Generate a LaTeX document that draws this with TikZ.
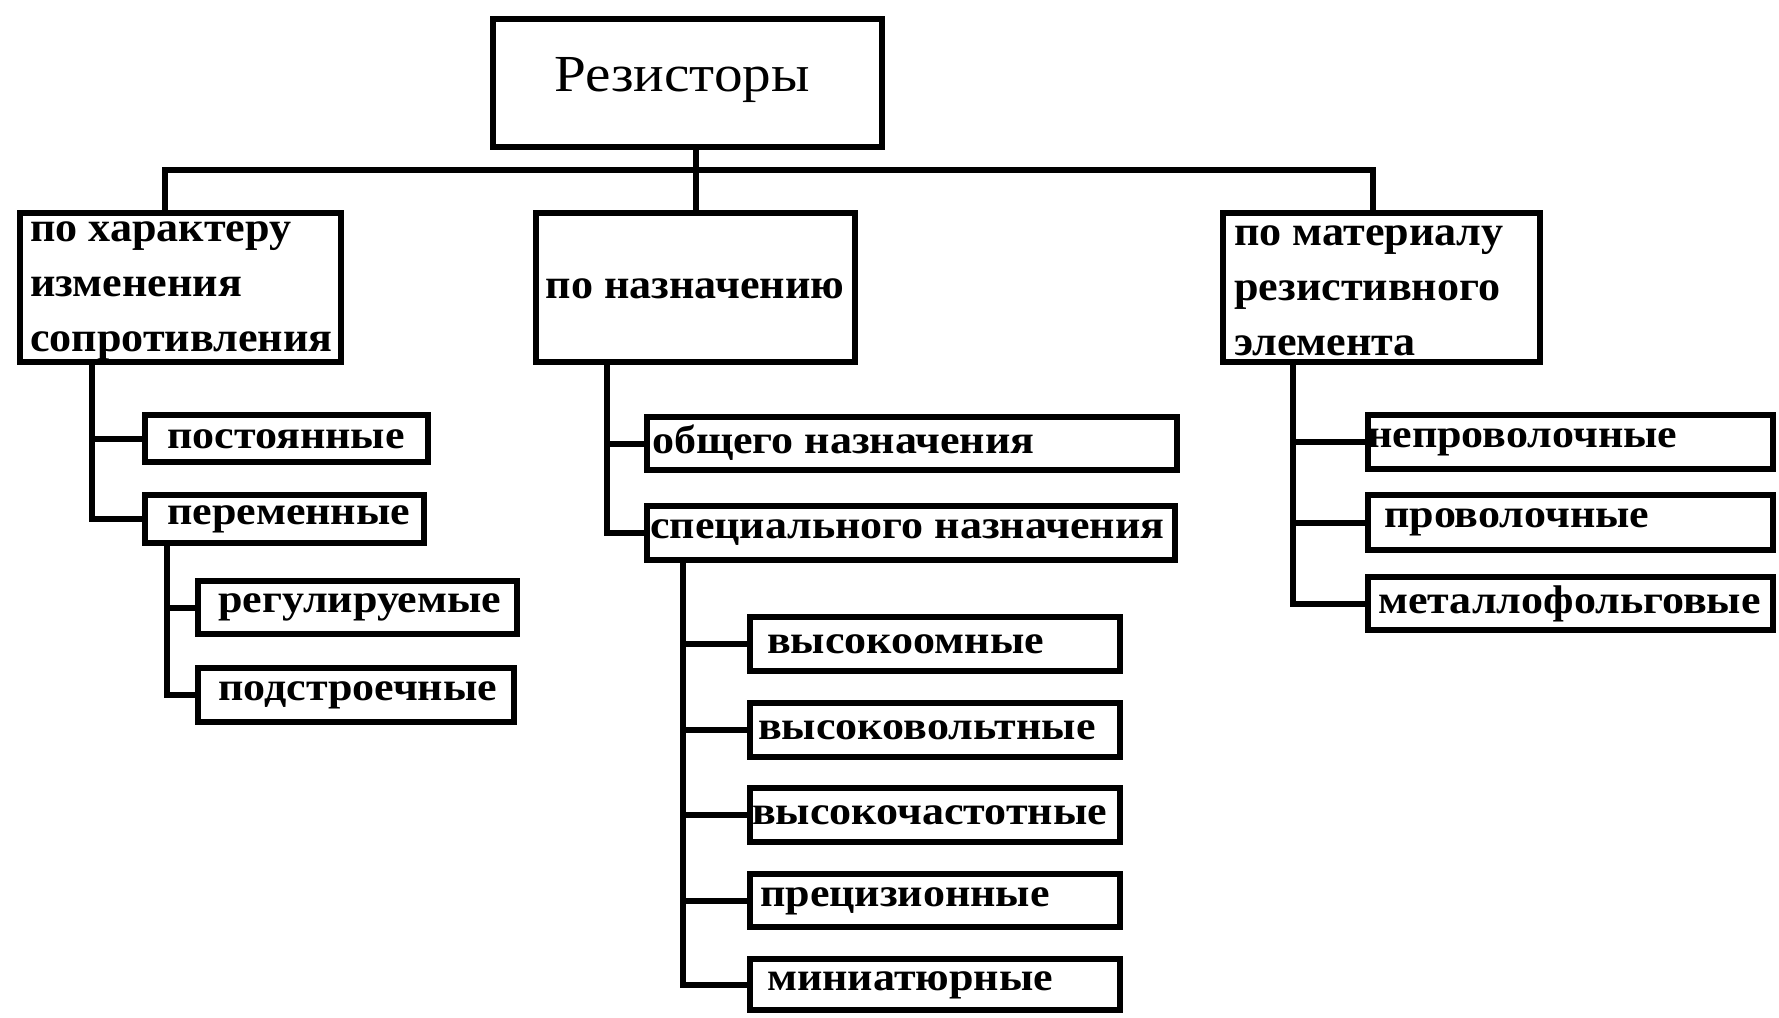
\documentclass[tikz,border=0pt]{standalone}
\usepackage{fontspec}
\setmainfont{Liberation Serif}
\newfontfamily\rootfont[FakeStretch=1.1]{Liberation Serif}
\newfontfamily\catfont[FakeStretch=1.05]{Liberation Serif Bold}
\newfontfamily\leaffont[FakeStretch=1.1]{Liberation Serif Bold}
\tikzset{
  box/.style={draw=black, line width=6pt, fill=none, inner sep=0pt},
  conn/.style={draw=black, line width=6pt},
  leaf/.style={inner sep=0pt, anchor=west, font=\leaffont\fontsize{40}{48}\selectfont},
  cat/.style={inner sep=0pt, anchor=west, align=left, font=\catfont\fontsize{42}{55}\selectfont},
}
\newcommand\mybox[5]{\node[box, minimum width={#4-#2-6}, minimum height={#5-#3-6}] (#1) at ({(#2+#4)/2},{(#3+#5)/2}) {};}
\begin{document}
\begin{tikzpicture}[x=1pt,y=-1pt]
\useasboundingbox (0,0) rectangle (1779,1017);
% root
\mybox{root}{490}{16}{885}{150}
\node[inner sep=0pt, font=\rootfont\fontsize{52}{60}\selectfont] (troot) at (682,80) {Резисторы};
% categories
\mybox{cat1}{17}{210}{344}{365}
\mybox{cat2}{533}{210}{858}{365}
\mybox{cat3}{1220}{210}{1543}{365}
\node[cat] (tc1) at (30,291) {по характеру\\изменения\\сопротивления};
\node[cat, anchor=center] (tc2) at (695,289) {по назначению};
\node[cat] (tc3) at (1234,291) {по материалу\\резистивного\\элемента};
% leaves group 1
\mybox{po}{142}{412}{431}{465}
\mybox{pe}{142}{492}{427}{546}
\mybox{re}{195}{578}{520}{637}
\mybox{pd}{195}{665}{517}{725}
\node[leaf] (tpo) at (167,439) {постоянные};
\node[leaf] (tpe) at (167,519) {переменные};
\node[leaf] (tre) at (218,607) {регулируемые};
\node[leaf] (tpd) at (218,695) {подстроечные};
% leaves group 2
\mybox{ob}{644}{414}{1180}{473}
\mybox{sp}{644}{503}{1178}{563}
\mybox{vA}{747}{614}{1123}{674}
\mybox{vB}{747}{700}{1123}{760}
\mybox{vC}{747}{785}{1123}{845}
\mybox{vD}{747}{871}{1123}{930}
\mybox{vE}{747}{956}{1123}{1013}
\node[leaf] (tob) at (652,443) {общего назначения};
\node[leaf] (tsp) at (650,533) {специального назначения};
\node[leaf] (tvA) at (767,644) {высокоомные};
\node[leaf] (tvB) at (758,730) {высоковольтные};
\node[leaf] (tvC) at (752,815) {высокочастотные};
\node[leaf] (tvD) at (760,901) {прецизионные};
\node[leaf] (tvE) at (767,985) {миниатюрные};
% leaves group 3
\mybox{nA}{1365}{412}{1776}{472}
\mybox{nB}{1365}{492}{1776}{553}
\mybox{nC}{1365}{574}{1776}{633}
\node[leaf] (tnA) at (1367,442) {непроволочные};
\node[leaf] (tnB) at (1384,522) {проволочные};
\node[leaf] (tnC) at (1378,604) {металлофольговые};
% connectors
\coordinate (busL) at (165,170);
\coordinate (busR) at (1373,170);
\coordinate (trA) at (92,0);
\coordinate (trB) at (167,0);
\coordinate (trC) at (607,0);
\coordinate (trD) at (683,0);
\coordinate (trE) at (1293,0);
\draw[conn] (cat1.north -| busL) -- (busL) -- (busR) -- (cat3.north -| busR);
\draw[conn] (root.south -| cat2.north) -- (cat2.north);
\draw[conn] (cat1.south -| trA) |- (pe.west);
\draw[conn] (po.west -| trA) -- (po.west);
\draw[conn] (pe.south -| trB) |- (pd.west);
\draw[conn] (re.west -| trB) -- (re.west);
\draw[conn] (cat2.south -| trC) |- (sp.west);
\draw[conn] (ob.west -| trC) -- (ob.west);
\draw[conn] (sp.south -| trD) |- (vE.west);
\foreach \n in {vA,vB,vC,vD}{\draw[conn] (\n.west -| trD) -- (\n.west);}
\draw[conn] (cat3.south -| trE) |- (nC.west);
\draw[conn] (nA.west -| trE) -- (nA.west);
\draw[conn] (nB.west -| trE) -- (nB.west);
\end{tikzpicture}
\end{document}
